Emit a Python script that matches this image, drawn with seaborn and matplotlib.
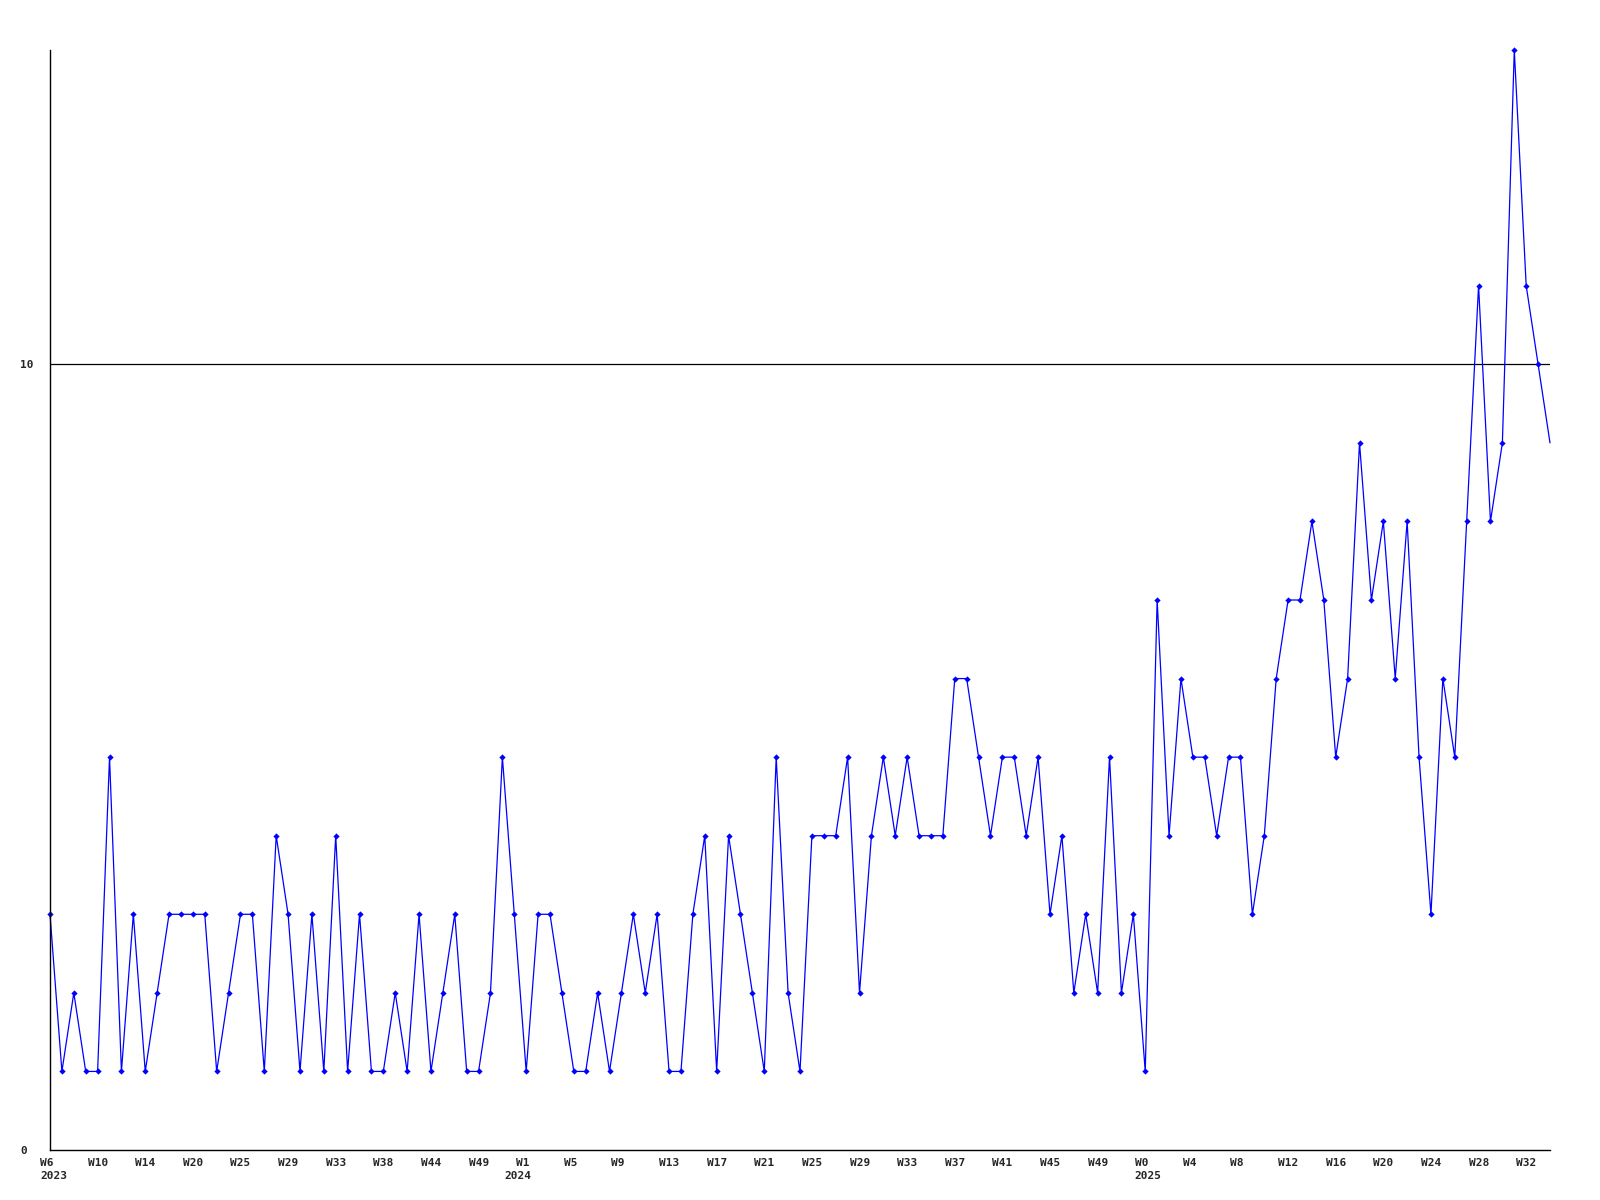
import matplotlib
matplotlib.use("Agg")
import matplotlib.pyplot as plt
import matplotlib.transforms as mtransforms
import seaborn as sns
import pandas as pd

# ---- data ----
values = [3, 1, 2, 1, 1, 5, 1, 3, 1, 2, 3, 3, 3, 3, 1, 2, 3, 3, 1, 4, 3, 1, 3, 1, 4, 1, 3, 1, 1, 2, 1, 3,
          1, 2, 3, 1, 1, 2, 5, 3, 1, 3, 3, 2, 1, 1, 2, 1, 2, 3, 2, 3, 1, 1, 3, 4, 1, 4, 3, 2, 1, 5, 2, 1,
          4, 4, 4, 5, 2, 4, 5, 4, 5, 4, 4, 4, 6, 6, 5, 4, 5, 5, 4, 5, 3, 4, 2, 3, 2, 5, 2, 3, 1,
          7, 4, 6, 5, 5, 4, 5, 5, 3, 4, 6, 7, 7, 8, 7, 5, 6, 9, 7, 8, 6, 8, 5, 3, 6, 5, 8, 11, 8, 9, 14, 11, 10, 9]
week_labels = ["W6", "W10", "W14", "W20", "W25", "W29", "W33", "W38", "W44", "W49",
               "W1", "W5", "W9", "W13", "W17", "W21", "W25", "W29", "W33", "W37", "W41", "W45", "W49",
               "W0", "W4", "W8", "W12", "W16", "W20", "W24", "W28", "W32"]
label_step = 4
years = ["2023", "2024", "2025"]
year_positions = [0, 40, 92]
y_ticks = [0, 10]

df = pd.DataFrame({"idx": list(range(len(values))), "value": values})

sns.set_style("white")
plt.rcParams["font.family"] = ["DejaVu Sans Mono", "DejaVu Sans"]

fig = plt.figure(figsize=(16, 12), dpi=100)
ax = fig.add_axes([50 / 1600, 50 / 1200, 1500 / 1600, 1100 / 1200])

sns.lineplot(data=df, x="idx", y="value", ax=ax, color="#0000ff", linewidth=0.9,
             marker="D", markersize=3.2, markeredgewidth=0, markerfacecolor="#0000ff",
             markevery=list(range(len(values) - 1)), clip_on=False)

ax.set_xlim(0, len(values) - 1)
ax.set_ylim(0, 14)
ax.set_xlabel("")
ax.set_ylabel("")

for s in ["top", "right"]:
    ax.spines[s].set_visible(False)
for s in ["left", "bottom"]:
    ax.spines[s].set_color("black")
    ax.spines[s].set_linewidth(1.0)

ax.axhline(10, color="black", linewidth=0.9, zorder=1)

# x tick labels
xt = [i * label_step for i in range(len(week_labels))]
ax.set_xticks(xt)
ax.set_xticklabels(week_labels, fontsize=8, fontweight="bold", ha="left")
ax.tick_params(axis="x", length=0, pad=5.5)
off_x = mtransforms.ScaledTranslation(-10 / 100, 0, fig.dpi_scale_trans)
for lab in ax.get_xticklabels():
    lab.set_transform(lab.get_transform() + off_x)

# y tick labels
ax.set_yticks(y_ticks)
ax.set_yticklabels([str(v) for v in y_ticks], fontsize=8, fontweight="bold", ha="left")
ax.tick_params(axis="y", length=0, pad=0)
off_y = mtransforms.ScaledTranslation(-30 / 100, 0, fig.dpi_scale_trans)
for lab in ax.get_yticklabels():
    lab.set_transform(lab.get_transform() + off_y)

# year labels
trans = mtransforms.blended_transform_factory(ax.transData, ax.transAxes)
year_offsets = [-10, -22, -11]
for yr, pos, dx in zip(years, year_positions, year_offsets):
    ax.text(pos, 0, yr, fontsize=8, fontweight="bold", ha="left", va="top",
            transform=trans + mtransforms.ScaledTranslation(dx / 100, -21 / 100, fig.dpi_scale_trans))

fig.savefig("out.png", dpi=100, facecolor="white")
